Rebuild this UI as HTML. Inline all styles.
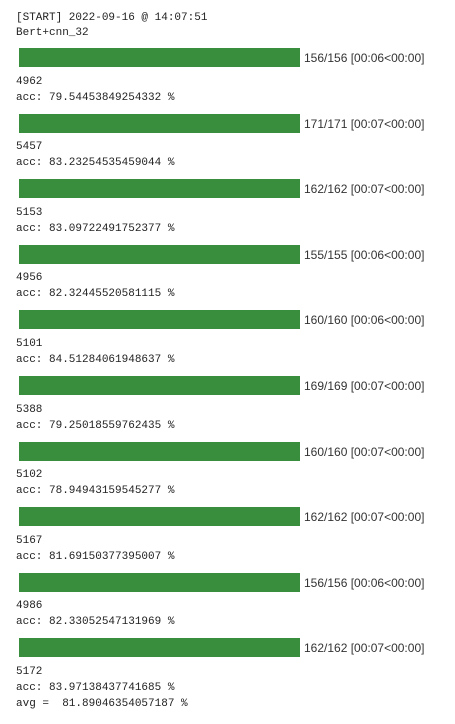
<!DOCTYPE html>
<html><head><meta charset="utf-8">
<style>
body{margin:0;width:455px;height:724px;background:#fff;position:relative;overflow:hidden}
.m{position:absolute;left:16px;font:11px/15px "Liberation Mono",monospace;color:#222;white-space:pre}
.bar{position:absolute;left:19px;width:281px;height:19px;background:#388e3c}
.pt{position:absolute;left:304px;font:12px/19px "Liberation Sans",sans-serif;color:#333;white-space:pre}
</style></head>
<body>
<div class="m" style="top:10.5px">[START] 2022-09-16 @ 14:07:51</div>
<div class="m" style="top:25.5px">Bert+cnn_32</div>
<div id="runs"></div>
<script>
const totals=[156,171,162,155,160,169,160,162,156,162];
const times=["00:06","00:07","00:07","00:06","00:06","00:07","00:07","00:07","00:06","00:07"];
const counts=[4962,5457,5153,4956,5101,5388,5102,5167,4986,5172];
const accs=["79.54453849254332","83.23254535459044","83.09722491752377","82.32445520581115","84.51284061948637","79.25018559762435","78.94943159545277","81.69150377395007","82.33052547131969","83.97138437741685"];
const avg="81.89046354057187";
const host=document.getElementById('runs');
function add(cls,top,text,name){
  const d=document.createElement('div');
  d.className=cls;d.style.top=top+'px';d.textContent=text;
  
  
  host.appendChild(d);return d;
}
let last=0;
totals.forEach((t,i)=>{
  const top=48+65.6*i;
  add('bar',top,'','progress-bar');
  add('pt',top+1,t+'/'+t+' ['+times[i]+'<00:00]','progress-text');
  add('m',top+26.5,String(counts[i]),'sample-count');
  add('m',top+42.5,'acc: '+accs[i]+' %','accuracy-line');
  last=top;
});
add('m',last+58.5,'avg =  '+avg+' %','average-line');
</script>
</body></html>
